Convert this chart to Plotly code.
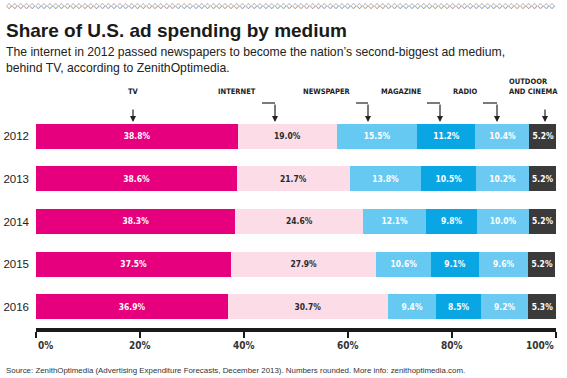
import plotly.graph_objects as go

years = ["2012", "2013", "2014", "2015", "2016"]
media = ["TV", "Internet", "Newspaper", "Magazine", "Radio", "Outdoor and cinema"]
tv = [38.8, 38.6, 38.3, 37.5, 36.9]
internet = [19.0, 21.7, 24.6, 27.9, 30.7]
newspaper = [15.5, 13.8, 12.1, 10.6, 9.4]
magazine = [11.2, 10.5, 9.8, 9.1, 8.5]
radio = [10.4, 10.2, 10.0, 9.6, 9.2]
outdoor = [5.2, 5.2, 5.2, 5.2, 5.3]
x_ticks = [0, 20, 40, 60, 80, 100]
x_tick_labels = ["0%", "20%", "40%", "60%", "80%", "100%"]

series = [tv, internet, newspaper, magazine, radio, outdoor]
colors = ["#e6007e", "#fbdce7", "#66c9f2", "#0aa6e4", "#6ccaf2", "#3b3a3a"]
text_colors = ["#ffffff", "#2a2a2a", "#ffffff", "#ffffff", "#ffffff", "#ffffff"]

COND = "Liberation Sans Narrow, DejaVu Sans Condensed, Arial Narrow, sans-serif"
SANS = "Liberation Sans, Arial, sans-serif"

W, H = 567, 378
M_L, M_R, M_T, M_B = 36, 11, 115, 50
PW = W - M_L - M_R
PH = H - M_T - M_B


def yp(py):
    return (H - M_B - py) / PH


def xp(px):
    return (px - M_L) / PW


fig = go.Figure()
for name, vals, c, tc in zip(media, series, colors, text_colors):
    fig.add_trace(go.Bar(
        y=years, x=vals, name=name, orientation="h",
        marker=dict(color=c, line=dict(width=0)),
        texttemplate="<b>%{x:.1f}%</b>", textposition="inside",
        insidetextanchor="middle", textangle=0,
        textfont=dict(family=COND, size=10, color=tc),
        hoverinfo="skip",
    ))

annotations = []
shapes = []

# callout labels: (text, anchor, text_px, line_from_px, arrow_px, arrow_top_px)
callouts = [
    ("TV", "center", 133, None, 133, 108),
    ("INTERNET", "right", 258, 262, 275, 103),
    ("NEWSPAPER", "right", 353, 356, 368, 103),
    ("MAGAZINE", "right", 424, 427, 440, 103),
    ("RADIO", "right", 480, 483, 497, 103),
    ("OUTDOOR<br>AND CINEMA", "right", 560, None, 545, 108),
]
for txt, anch, tpx, lpx, apx, atop in callouts:
    annotations.append(dict(
        x=xp(tpx), y=yp(98), xref="paper", yref="paper",
        text="<b>" + txt + "</b>", showarrow=False, xanchor=anch, yanchor="bottom",
        align="left", font=dict(family=COND, size=7.5, color="#222"),
    ))
    if lpx is not None:
        shapes.append(dict(type="line", xref="paper", yref="paper",
                           x0=xp(lpx), x1=xp(apx), y0=yp(103), y1=yp(103),
                           line=dict(color="#222", width=1.2)))
    annotations.append(dict(
        x=xp(apx), y=yp(122), xref="paper", yref="paper", text="",
        showarrow=True, ax=0, ay=-(122 - atop), arrowhead=2, arrowsize=1,
        arrowwidth=1.2, arrowcolor="#222", standoff=0,
    ))

# x tick labels: first left-aligned, last right-aligned, others centred
for i, (v, lab) in enumerate(zip(x_ticks, x_tick_labels)):
    anch = "left" if i == 0 else ("right" if i == len(x_ticks) - 1 else "center")
    annotations.append(dict(
        x=v, y=yp(345), xref="x", yref="paper", text="<b>" + lab + "</b>",
        showarrow=False, xanchor=anch, yanchor="middle",
        font=dict(family=COND, size=10, color="#333"),
    ))

# decorative diamond row
annotations.append(dict(
    x=xp(4), y=yp(6), xref="paper", yref="paper", text="◇" * 94, showarrow=False,
    xanchor="left", yanchor="middle", font=dict(family="DejaVu Sans", size=7.6, color="#555"),
))
# title
annotations.append(dict(
    x=xp(4), y=yp(30), xref="paper", yref="paper", xanchor="left", yanchor="middle",
    showarrow=False, text="<b>Share of U.S. ad spending by medium</b>",
    font=dict(family=SANS, size=19, color="#1a1a1a"),
))
# subtitle
annotations.append(dict(
    x=xp(4), y=yp(43), xref="paper", yref="paper", xanchor="left", yanchor="top",
    align="left", showarrow=False,
    text="The internet in 2012 passed newspapers to become the nation’s second-biggest ad medium,<br>behind TV, according to ZenithOptimedia.",
    font=dict(family=SANS, size=12.2, color="#222"),
))
# source
annotations.append(dict(
    x=xp(4), y=yp(370), xref="paper", yref="paper", xanchor="left", yanchor="middle",
    showarrow=False,
    text="Source: ZenithOptimedia (Advertising Expenditure Forecasts, December 2013). Numbers rounded. More info: zenithoptimedia.com.",
    font=dict(family=SANS, size=7.9, color="#333"),
))

fig.update_layout(
    width=W, height=H,
    margin=dict(l=M_L, r=M_R, t=M_T, b=M_B, autoexpand=False),
    paper_bgcolor="white", plot_bgcolor="white",
    barmode="stack", bargap=0.41, showlegend=False,
    uniformtext=dict(minsize=7, mode="show"),
    xaxis=dict(
        range=[0, 100], tickvals=x_ticks, showticklabels=False,
        showgrid=False, zeroline=False, showline=True, linewidth=4, linecolor="#1a1a1a",
        ticks="outside", ticklen=6, tickwidth=1.3, tickcolor="#1a1a1a",
        automargin=False, fixedrange=True,
    ),
    yaxis=dict(
        autorange="reversed", showgrid=False, zeroline=False, showline=False,
        ticks="", ticklabelstandoff=6, automargin=False, fixedrange=True,
        tickfont=dict(family=SANS, size=11.5, color="#222"),
    ),
    annotations=annotations,
    shapes=shapes,
)

fig.write_html(
    "out.html",
    config={"displayModeBar": False, "staticPlot": True},
    post_script="document.body.style.margin='0px';document.body.style.overflow='hidden';",
)
